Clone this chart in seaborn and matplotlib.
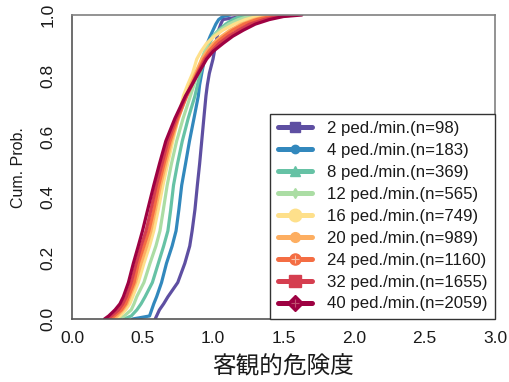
import matplotlib
matplotlib.use("Agg")
import matplotlib.pyplot as plt
from matplotlib.lines import Line2D
from matplotlib.legend_handler import HandlerTuple
import pandas as pd
import seaborn as sns

# Cumulative probability levels at which each curve's risk value is tabulated
probs = [0.0, 0.01, 0.03, 0.05, 0.073, 0.12, 0.183, 0.24, 0.29, 0.36, 0.44, 0.51, 0.585,
         0.66, 0.734, 0.77, 0.808, 0.855, 0.88, 0.907, 0.93, 0.95, 0.97, 0.985, 0.995, 1.0]

# Pedestrian flow rates (ped./min.) and sample sizes
rates = [2, 4, 8, 12, 16, 20, 24, 32, 40]
counts = [98, 183, 369, 565, 749, 989, 1160, 1655, 2059]

# Objective risk value at each cumulative probability level, per flow rate
q2 = [0.59, 0.60, 0.62, 0.65, 0.68, 0.75, 0.80, 0.835, 0.852, 0.872, 0.889, 0.905, 0.92,
      0.935, 0.95, 0.96, 0.974, 1.00, 1.01, 1.02, 1.03, 1.04, 1.055, 1.07, 1.20, 1.235]
q4 = [0.43, 0.55, 0.565, 0.58, 0.60, 0.635, 0.67, 0.71, 0.738, 0.758, 0.778, 0.805, 0.833,
      0.865, 0.896, 0.905, 0.92, 0.94, 0.95, 0.96, 0.98, 1.00, 1.02, 1.04, 1.07, 1.12]
q8 = [0.37, 0.42, 0.46, 0.49, 0.518, 0.57, 0.612, 0.65, 0.68, 0.70, 0.72, 0.748, 0.782,
      0.824, 0.872, 0.89, 0.91, 0.94, 0.955, 0.975, 1.00, 1.04, 1.09, 1.14, 1.19, 1.25]
q12 = [0.33, 0.37, 0.42, 0.44, 0.459, 0.51, 0.553, 0.595, 0.624, 0.648, 0.675, 0.705, 0.742,
       0.788, 0.84, 0.865, 0.89, 0.92, 0.94, 0.965, 1.00, 1.05, 1.11, 1.18, 1.25, 1.32]
q16 = [0.30, 0.34, 0.38, 0.41, 0.43, 0.47, 0.51, 0.55, 0.58, 0.612, 0.645, 0.678, 0.715,
       0.752, 0.79, 0.82, 0.855, 0.885, 0.915, 0.955, 1.01, 1.07, 1.15, 1.23, 1.31, 1.40]
q20 = [0.29, 0.32, 0.36, 0.39, 0.41, 0.45, 0.49, 0.53, 0.56, 0.592, 0.628, 0.665, 0.705,
       0.755, 0.81, 0.84, 0.875, 0.92, 0.955, 1.00, 1.06, 1.12, 1.20, 1.29, 1.38, 1.48]
q24 = [0.27, 0.30, 0.35, 0.38, 0.40, 0.44, 0.47, 0.51, 0.545, 0.58, 0.615, 0.652, 0.695,
       0.75, 0.815, 0.85, 0.885, 0.935, 0.97, 1.02, 1.08, 1.14, 1.22, 1.31, 1.41, 1.52]
q32 = [0.25, 0.28, 0.33, 0.36, 0.385, 0.42, 0.455, 0.49, 0.525, 0.56, 0.598, 0.638, 0.68,
       0.74, 0.81, 0.85, 0.89, 0.945, 0.99, 1.045, 1.11, 1.18, 1.26, 1.36, 1.46, 1.58]
q40 = [0.23, 0.26, 0.305, 0.34, 0.364, 0.40, 0.435, 0.47, 0.50, 0.537, 0.58, 0.62, 0.665,
       0.73, 0.805, 0.85, 0.896, 0.955, 1.00, 1.073, 1.14, 1.215, 1.30, 1.40, 1.50, 1.63]

colors = ["#5E4FA2", "#3288BD", "#66C2A5", "#ABDDA4", "#FEE08B",
          "#FDAE61", "#F46D43", "#D53E4F", "#9E0142"]
markers = ["s", "o", "^", "d", "o", "o", "o", "s", "D"]
msizes = [7, 6, 7, 5, 9, 7, 8, 8, 8]

quantiles = [q2, q4, q8, q12, q16, q20, q24, q32, q40]
labels = [f"{r} ped./min.(n={n})" for r, n in zip(rates, counts)]

rows = []
for lab, q in zip(labels, quantiles):
    for p, v in zip(probs, q):
        rows.append({"label": lab, "risk": v, "prob": p})
df = pd.DataFrame(rows)

sns.set_style("white")
plt.rcParams["font.family"] = ["Liberation Sans", "Noto Sans CJK JP", "DejaVu Sans"]

fig = plt.figure(figsize=(5.10, 3.82), dpi=100)
ax = fig.add_axes([72 / 510, 63 / 382, 423 / 510, 304 / 382])

sns.lineplot(data=df, x="risk", y="prob", hue="label", hue_order=labels,
             palette=colors, estimator=None, sort=False, linewidth=2.3,
             legend=False, ax=ax)

ax.set_xlim(0, 3.0)
ax.set_ylim(0, 1.0)
xt = [0.0, 0.5, 1.0, 1.5, 2.0, 2.5, 3.0]
yt = [0.0, 0.2, 0.4, 0.6, 0.8, 1.0]
ax.set_xticks(xt)
ax.set_xticklabels([f"{v:.1f}" for v in xt])
ax.set_yticks(yt)
ax.set_yticklabels([f"{v:.1f}" for v in yt], rotation=90, va="center")
ax.tick_params(axis="both", direction="out", length=4.8, width=1.1,
               color="#555555", labelsize=12.5, labelcolor="#1a1a1a")
ax.tick_params(axis="x", pad=4)
ax.tick_params(axis="y", pad=7)
ax.set_xlabel("")
ax.set_ylabel("")
for side in ["left", "bottom"]:
    ax.spines[side].set_color("#555555")
    ax.spines[side].set_linewidth(1.2)
for side in ["top", "right"]:
    ax.spines[side].set_color("#808080")
    ax.spines[side].set_linewidth(1.2)

# Legend handles with line and marker per flow rate
handles = []
for i, (c, m, s) in enumerate(zip(colors, markers, msizes)):
    base = Line2D([], [], color=c, lw=3.6, marker=m, markersize=s,
                  markerfacecolor=c, markeredgecolor=c)
    if rates[i] in (24, 40):
        cross = Line2D([], [], linestyle="None", marker="+", markersize=s - 2,
                       markeredgecolor="#f8c0a8" if rates[i] == 24 else "#c05070",
                       markeredgewidth=0.8)
        handles.append((base, cross))
    else:
        handles.append(base)

leg = ax.legend(handles, labels, loc="lower left",
                bbox_to_anchor=(198 / 423, 0.0, 225 / 423, 0.5),
                mode="expand", borderaxespad=0, fontsize=12.1,
                frameon=True, fancybox=False, edgecolor="#333333",
                framealpha=1, handlelength=2.05, handletextpad=0.9,
                labelspacing=0.41, borderpad=0.45,
                handler_map={tuple: HandlerTuple(ndivide=1)})
leg.get_frame().set_linewidth(1.0)
for t in leg.get_texts():
    t.set_color("#1a1a1a")

fig.text(19 / 510, 1 - 168 / 382, "Cum. Prob.", rotation=90, ha="center",
         va="center", fontsize=11.5, color="#1a1a1a")
fig.text(283 / 510, 1 - 367 / 382, "客観的危険度", ha="center", va="center",
         fontsize=17, color="#1a1a1a", family=["Noto Sans CJK JP", "DejaVu Sans"])

fig.savefig("out.png", dpi=100)
